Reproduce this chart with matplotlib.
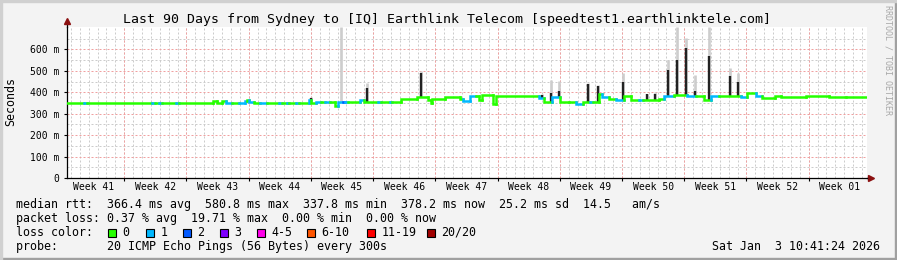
import numpy as np
import matplotlib
matplotlib.use("Agg")
import matplotlib.pyplot as plt
from matplotlib.patches import Rectangle

# --> Median rtt as steps: start day, value in ms, loss class index.
med_day = [0.0, 1.9, 2.3, 9.6, 9.9, 10.4, 10.7, 12.3, 12.6, 16.4, 16.9, 17.4, 17.9,
           18.6, 19.3, 20.0, 20.2, 20.5, 21.0, 21.7, 22.5, 23.9, 24.2, 24.7, 25.0,
           25.8, 26.1, 27.2, 27.5, 28.0, 28.6, 29.0, 29.6, 30.2, 30.5, 31.0, 31.3,
           31.6, 33.0, 33.4, 35.0, 35.3, 36.3, 36.6, 37.6, 39.4, 40.6, 40.9, 41.1,
           42.5, 44.2, 44.5, 45.3, 46.0, 46.4, 46.7, 47.9, 48.3, 53.1, 53.7, 54.6,
           55.5, 56.5, 57.3, 58.0, 58.8, 59.2, 59.9, 60.2, 61.0, 61.8, 62.7, 63.5,
           64.4, 64.8, 66.6, 67.2, 68.3, 69.8, 70.8, 71.7, 72.5, 73.4, 75.8, 76.5,
           77.5, 78.2, 79.6, 80.3, 83.1, 85.7, 87.6]
med_ms = [351, 351, 351, 351, 351, 351, 351, 351, 351, 360, 351, 360, 351,
          351, 351, 358, 365, 356, 351, 351, 351, 351, 351, 351, 351,
          351, 351, 362, 351, 356, 356, 356, 356, 338, 356, 356, 356,
          356, 362, 353, 353, 353, 353, 353, 370, 376, 362, 350, 368,
          376, 368, 360, 381, 381, 362, 386, 345, 381, 373, 357, 376,
          356, 353, 345, 353, 356, 356, 392, 378, 368, 362, 384, 365,
          365, 365, 370, 381, 389, 381, 381, 365, 381, 381, 378, 397,
          384, 373, 384, 378, 381, 378, 380]
med_loss = [0, 1, 0, 1, 0, 1, 0, 1, 0, 0, 0, 0, 1,
            0, 1, 1, 0, 1, 0, 1, 0, 1, 0, 1, 0,
            1, 0, 1, 0, 1, 0, 1, 0, 0, 1, 2, 1,
            0, 1, 0, 1, 0, 1, 0, 0, 0, 0, 0, 0,
            0, 0, 1, 1, 0, 0, 0, 0, 0, 1, 0, 1,
            0, 0, 1, 0, 1, 0, 0, 1, 0, 1, 0, 0,
            1, 0, 0, 1, 0, 1, 0, 0, 1, 0, 1, 0,
            1, 0, 0, 0, 0, 0, 0]

# --> Spikes: day, top of dense (black) smoke, top of light smoke (ms).
spike_day = [27.4, 30.8, 33.7, 39.85, 53.4, 54.5, 55.4, 58.65, 59.7, 62.6, 65.2,
             66.2, 67.6, 68.6, 69.6, 70.6, 72.2, 74.6, 75.5]
spike_black = [373, 356, 420, 490, 389, 397, 404, 440, 428, 446, 390,
               392, 506, 553, 607, 404, 568, 475, 448]
spike_smoke = [376, 705, 443, 498, 392, 456, 452, 443, 436, 490, 392,
               400, 553, 705, 654, 482, 705, 514, 490]

week_labels = ['Week 41', 'Week 42', 'Week 43', 'Week 44', 'Week 45', 'Week 46',
               'Week 47', 'Week 48', 'Week 49', 'Week 50', 'Week 51', 'Week 52',
               'Week 01']
week_start = 6.44

y_ticks = [0, 100, 200, 300, 400, 500, 600]
y_tick_labels = ['0', '100 m', '200 m', '300 m', '400 m', '500 m', '600 m']

loss_labels = ['0', '1', '2', '3', '4-5', '6-10', '11-19', '20/20']
loss_colors = ['#26ff00', '#00b8ff', '#0059ff', '#7e00ff', '#ff00ea',
               '#ff5500', '#ff0000', '#a10000']
loss_box_x = [108, 145.7, 182.7, 220, 256.7, 306.7, 366.7, 426.7]

W, H = 897, 260
MONO = 'DejaVu Sans Mono'


def fx(x):
    return x / W


def fy(y):
    return 1 - y / H


fig = plt.figure(figsize=(W / 100, H / 100), dpi=100, facecolor='#f3f3f3')

# --> Frame of the image.
fig.patches.append(Rectangle((0, 0), 1, 2 / H, transform=fig.transFigure, color='#a0a0a0'))
fig.patches.append(Rectangle((1 - 2 / W, 0), 2 / W, 1, transform=fig.transFigure, color='#a0a0a0'))
fig.patches.append(Rectangle((0, 1 - 2 / H), 1, 2 / H, transform=fig.transFigure, color='#d0d0d0'))
fig.patches.append(Rectangle((0, 0), 2 / W, 1, transform=fig.transFigure, color='#d0d0d0'))

ax = fig.add_axes([fx(67), fy(178), fx(867) - fx(67), fy(27) - fy(178)])
ax.set_facecolor('white')
ax.set_xlim(0, 90)
ax.set_ylim(0, 705)

# --> Grid: days / 50 ms minor, weeks / 100 ms major.
dots = (0, (2, 2))
for d in np.arange(week_start % 1, 90, 1.0):
    ax.axvline(d, color='#cccccc', lw=0.72, ls=dots, zorder=0)
for v in range(50, 705, 100):
    ax.axhline(v, color='#cccccc', lw=0.72, ls=dots, zorder=0)
for d in np.arange(week_start, 90, 7.0):
    ax.axvline(d, color='#f0a0a0', lw=0.72, ls=dots, zorder=0.5)
for v in y_ticks[1:]:
    ax.axhline(v, color='#f0a0a0', lw=0.72, ls=dots, zorder=0.5)

# --> Smoke and spikes.
med_day_a = np.array(med_day)
for d, b, s in zip(spike_day, spike_black, spike_smoke):
    base = med_ms[np.searchsorted(med_day_a, d, side='right') - 1]
    ax.vlines(d, base, s, color='#cdcdcd', lw=1.9, zorder=2)
    if b > base:
        ax.vlines(d, base, b, color='#222222', lw=1.7, zorder=3)

# --> Median line coloured by loss.
ends = med_day[1:] + [90.0]
for i in range(len(med_day)):
    prev = med_ms[i - 1] if i > 0 else med_ms[0]
    ax.plot([med_day[i], med_day[i], ends[i]], [prev, med_ms[i], med_ms[i]],
            color=loss_colors[med_loss[i]], lw=1.8, solid_capstyle='projecting',
            solid_joinstyle='miter', zorder=4)

# --> Axes and ticks.
for side in ['top', 'right']:
    ax.spines[side].set_visible(False)
ax.spines['left'].set_linewidth(0.9)
ax.spines['bottom'].set_linewidth(0.9)
ax.set_yticks(y_ticks)
ax.set_yticklabels(y_tick_labels, fontfamily=MONO, fontsize=7)
ax.tick_params(axis='y', length=2.2, width=0.8, pad=3.2)
ax.set_xticks(np.arange(week_start, 90, 7.0))
ax.set_xticklabels([])
ax.tick_params(axis='x', length=2.2, width=0.8)
for k, lab in enumerate(week_labels):
    ax.text(week_start - 3.5 + 7 * k, -9 / 151, lab, transform=ax.get_xaxis_transform(),
            ha='center', va='center', fontfamily=MONO, fontsize=7)

# --> Axis arrows.
ax.plot([0, 0], [1, 1.035], color='black', lw=0.9, transform=ax.transAxes, clip_on=False)
ax.plot(0, 1.04, marker='^', ms=4, color='#8b1010', transform=ax.transAxes, clip_on=False)
ax.plot([1, 1.004], [0, 0], color='black', lw=0.9, transform=ax.transAxes, clip_on=False)
ax.plot(1.005, 0, marker='>', ms=4, color='#8b1010', transform=ax.transAxes, clip_on=False)

fig.text(fx(11), fy(102), 'Seconds', rotation=90, ha='center', va='center',
         fontfamily=MONO, fontsize=8.4)

# --> Title and watermark.
fig.text(fx(447), fy(19.5), 'Last 90 Days from Sydney to [IQ] Earthlink Telecom '
         '[speedtest1.earthlinktele.com]', ha='center', va='center',
         fontfamily=MONO, fontsize=9.5)
fig.text(fx(887.5), fy(60), 'RRDTOOL / TOBI OETIKER', rotation=270, ha='center',
         va='center', fontfamily=MONO, fontsize=6, color='#a8a8a8')

# --> Legend rows.
fs = 8.4
fig.text(fx(16), fy(204.3), 'median rtt:  366.4 ms avg  580.8 ms max  337.8 ms min  '
         '378.2 ms now  25.2 ms sd  14.5   am/s', va='center', fontfamily=MONO, fontsize=fs)
fig.text(fx(16), fy(218.3), 'packet loss: 0.37 % avg  19.71 % max  0.00 % min  0.00 % now',
         va='center', fontfamily=MONO, fontsize=fs)
fig.text(fx(16), fy(232.3), 'loss color:', va='center', fontfamily=MONO, fontsize=fs)
for bx, lab, col in zip(loss_box_x, loss_labels, loss_colors):
    fig.patches.append(Rectangle((fx(bx), fy(236.5)), 8 / W, 8 / H, transform=fig.transFigure,
                                 facecolor=col, edgecolor='black', lw=0.8))
    fig.text(fx(bx + 14.5), fy(232.3), lab, va='center', fontfamily=MONO, fontsize=fs)
fig.text(fx(16), fy(246.3), 'probe:       20 ICMP Echo Pings (56 Bytes) every 300s',
         va='center', fontfamily=MONO, fontsize=fs)
fig.text(fx(880), fy(246.3), 'Sat Jan  3 10:41:24 2026', ha='right', va='center',
         fontfamily=MONO, fontsize=fs)

fig.savefig('out.png', dpi=100, facecolor=fig.get_facecolor())
